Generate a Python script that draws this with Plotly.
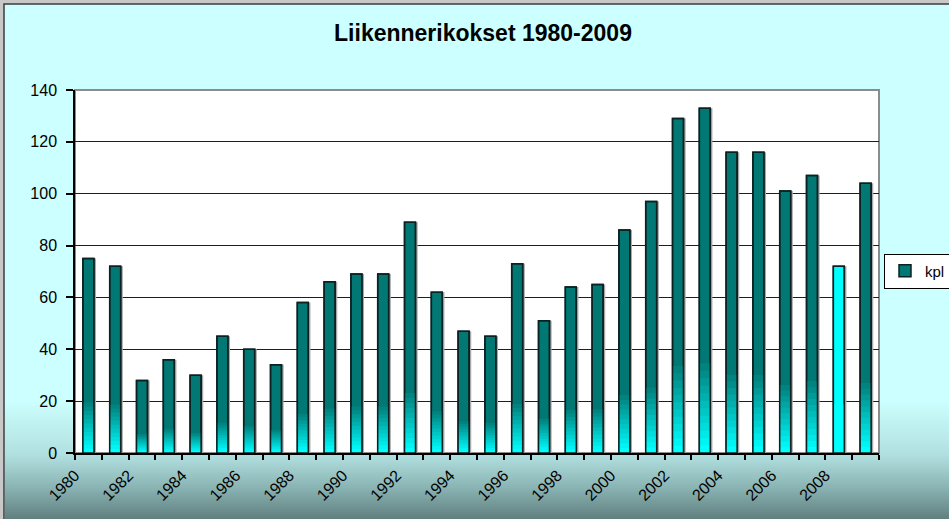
import plotly.graph_objects as go
import numpy as np

# ── Data ───────────────────────────────────────────────────────────────────────
years = list(range(1980, 2010))
kpl = [75, 72, 28, 36, 30, 45, 40, 34, 58, 66,
       69, 69, 89, 62, 47, 45, 73, 51, 64, 65,
       86, 97, 129, 133, 116, 116, 101, 107, 72, 104]
tick_years = list(range(1980, 2010, 2))
tick_labels = [str(y) for y in tick_years]
highlight_year = 2008

# ── Style ──────────────────────────────────────────────────────────────────────
W, H = 949, 519
L, R, T, B = 75, 70, 90, 66
TEAL = (1, 120, 116)
CYAN = (0, 255, 255)
FONT = 'Arial, Liberation Sans, sans-serif'
BAR_W = 0.41


def px_x(px):
    return (px - L) / (W - L - R)


def px_y(py):
    return (H - B - py) / (H - T - B)


def rgb(c):
    return 'rgb(%d,%d,%d)' % tuple(int(round(v)) for v in c)


def mix(a, b, t):
    return tuple(a[i] + (b[i] - a[i]) * t for i in range(3))


shapes = []
# chart background with dark frame
shapes.append(dict(type='rect', xref='paper', yref='paper',
                   x0=px_x(4), x1=px_x(W + 10), y0=px_y(H + 10), y1=px_y(4),
                   fillcolor='#CCFFFF', line=dict(color='#3C3C3C', width=1.5),
                   layer='below'))
# bottom gradient of the chart area
stops = [(400, (204, 255, 255)), (453, (178, 224, 224)),
         (485, (140, 182, 182)), (520, (94, 124, 124))]
for py in range(400, 520, 2):
    for (a, ca), (b, cb) in zip(stops[:-1], stops[1:]):
        if a <= py < b:
            c = mix(ca, cb, (py - a) / (b - a))
            break
    shapes.append(dict(type='rect', xref='paper', yref='paper',
                       x0=px_x(5), x1=px_x(W + 10), y0=px_y(py + 2.5), y1=px_y(py),
                       fillcolor=rgb(c), line=dict(width=0), layer='below'))
# white plot area with grey frame
shapes.append(dict(type='rect', xref='x domain', yref='y domain',
                   x0=0, x1=1, y0=0, y1=1, fillcolor='white',
                   line=dict(color='#8C8C8C', width=2), layer='below'))

base_colors = [CYAN if y == highlight_year else TEAL for y in years]
vals = np.array(kpl, dtype=float)

fig = go.Figure()
# drop shadow
fig.add_trace(go.Bar(
    x=years, y=kpl, width=BAR_W, offset=-BAR_W / 2 + 0.08,
    marker=dict(color='#A8A8A8', line=dict(width=0)),
    showlegend=False, hoverinfo='skip',
))
# main bars
fig.add_trace(go.Bar(
    x=years, y=kpl, width=BAR_W, offset=-BAR_W / 2, name='kpl',
    marker=dict(color=[rgb(c) for c in base_colors],
                line=dict(color='#0B2222', width=1.5)),
))
# bottom cyan gradient inside each bar
N = 12
G = 0.26
for k in range(1, N + 1):
    f = G * (1 - (k - 1) / N)
    t = k / N
    cols = [rgb(mix(c, CYAN, t)) for c in base_colors]
    fig.add_trace(go.Bar(
        x=years, y=vals * f, width=BAR_W, offset=-BAR_W / 2,
        marker=dict(color=cols, line=dict(width=0)),
        showlegend=False, hoverinfo='skip',
    ))
# outline on top
fig.add_trace(go.Bar(
    x=years, y=kpl, width=BAR_W, offset=-BAR_W / 2,
    marker=dict(color='rgba(0,0,0,0)', line=dict(color='#0B2222', width=1.5)),
    showlegend=False, hoverinfo='skip',
))

fig.update_layout(
    width=W, height=H,
    margin=dict(l=L, r=R, t=T, b=B, autoexpand=False),
    paper_bgcolor='#C8C8C8',
    plot_bgcolor='white',
    barmode='overlay',
    font=dict(family=FONT, size=16, color='black'),
    title=dict(text='<b>Liikennerikokset 1980-2009</b>',
               x=483 / W, xanchor='center', y=1 - 33 / H, yanchor='middle',
               font=dict(family=FONT, size=23, color='black')),
    shapes=shapes,
    legend=dict(x=px_x(884), xanchor='left', y=px_y(271), yanchor='middle',
                bgcolor='white', bordercolor='black', borderwidth=1,
                font=dict(family=FONT, size=15, color='black'),
                itemwidth=30),
    xaxis=dict(
        range=[years[0] - 0.5, years[-1] + 0.5],
        tickmode='array',
        tickvals=[y - 0.5 for y in tick_years],
        ticktext=tick_labels,
        tickangle=-45,
        ticks='outside', ticklen=5, tickcolor='black', tickwidth=1.5,
        minor=dict(ticks='outside', ticklen=5, tickcolor='black', tickwidth=1.5,
                   tickmode='linear', tick0=years[0] - 0.5, dtick=1, showgrid=False),
        showline=True, linecolor='black', linewidth=1.5,
        showgrid=False, zeroline=False, automargin=False,
        tickfont=dict(family=FONT, size=16, color='black'),
    ),
    yaxis=dict(
        range=[0, 140], dtick=20,
        ticks='outside', ticklen=7, tickcolor='black', tickwidth=1.5,
        ticklabelstandoff=6,
        showline=True, linecolor='black', linewidth=1.5,
        showgrid=True, gridcolor='#1E1E1E', gridwidth=1.2,
        zeroline=False, automargin=False,
        tickfont=dict(family=FONT, size=16, color='black'),
    ),
)

# remove the default page margin so the chart sits at the window's corner
fig.write_html("out.html", config=dict(displayModeBar=False),
               post_script="document.body.style.margin='0';")
